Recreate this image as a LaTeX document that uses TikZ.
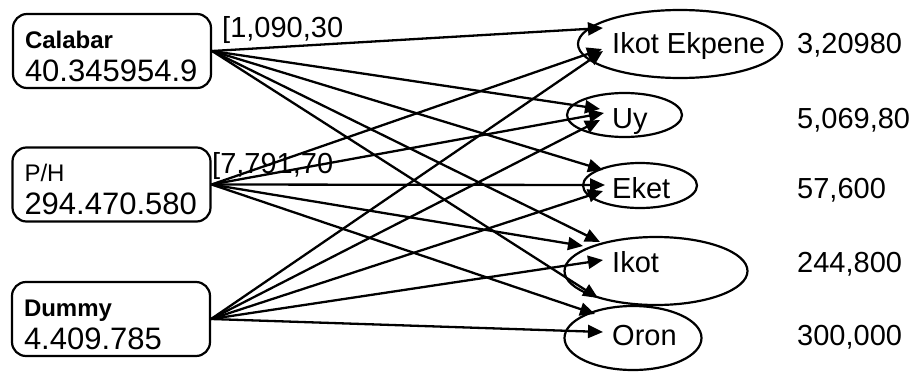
\documentclass[tikz,border=0pt]{standalone}
\usepackage{fontspec}
\setmainfont{Liberation Sans}
\usetikzlibrary{calc,shapes.geometric,arrows.meta}

\begin{document}
\begin{tikzpicture}[x=1pt,y=-1pt,
    srcbox/.style={rectangle,rounded corners=14pt,draw,line width=2.2pt,align=left,text width=174pt,
        inner xsep=12pt,inner ysep=0pt,text height=34pt,text depth=40pt,font=\fontsize{31}{33}\selectfont},
    dest/.style={draw,ellipse,line width=2.2pt,inner sep=0pt},
    lab/.style={anchor=base west,inner sep=0pt,font=\fontsize{29}{33}\selectfont},
    arr/.style={line width=2.3pt,-{Triangle[length=15pt,width=13pt]}}]
    \useasboundingbox (0,0) rectangle (918,372);  % 画布大小

    \node[srcbox] (cal) at (112,51) {{\fontsize{24}{33}\selectfont\bfseries Calabar}\\40.345954.9}; % 起点A
    \node[srcbox] (ph) at (111.5,184.5) {{\fontsize{24}{33}\selectfont P/H}\\294.470.580}; % 起点B
    \node[srcbox] (dum) at (111,319) {{\fontsize{24}{33}\selectfont\bfseries Dummy}\\4.409.785}; % 起点C

    \node (ellIkotE) at (680,44) [dest,minimum width=204pt,minimum height=68pt] {}; % 终点椭圆
    \node (ellUy) at (624.5,115) [dest,minimum width=115pt,minimum height=44pt] {};
    \node (ellEket) at (640,185.5) [dest,minimum width=114pt,minimum height=45pt] {};
    \node (ellIkot) at (656,271) [dest,minimum width=183pt,minimum height=68pt] {};
    \node (ellOron) at (633,338) [dest,minimum width=137pt,minimum height=64pt] {};

    \node (ikotE) at (612,53) [lab] {Ikot Ekpene}; % 终点名称
    \node (uy) at (612,128) [lab] {Uy};
    \node (eket) at (612,198) [lab] {Eket};
    \node (ikot) at (612,272) [lab] {Ikot};
    \node (oron) at (612,345) [lab] {Oron};

    \node (vIkotE) at (797,53) [lab] {3,20980}; % 需求量
    \node (vUy) at (797,128) [lab] {5,069,80};
    \node (vEket) at (797,198) [lab] {57,600};
    \node (vIkot) at (797,272) [lab] {244,800};
    \node (vOron) at (797,345) [lab] {300,000};

    \node (cCal) at (222,37) [lab] {[1,090,30}; % 标注费用
    \node (cPh) at (212,173) [lab] {[7,791,70};

    \draw[arr] (cal.east) -- ([xshift=-9pt,yshift=25pt]ikotE.base west); % Calabar 出发
    \draw[arr] (cal.east) -- ([xshift=-12pt,yshift=19pt]uy.base west);
    \draw[arr] (cal.east) -- ([xshift=-9pt,yshift=28pt]eket.base west);
    \draw[arr] (cal.east) -- ([xshift=-12pt,yshift=30pt]ikot.base west);
    \draw[arr] (cal.east) -- ([xshift=-14pt,yshift=47pt]oron.base west);

    \draw[arr] (ph.east) -- ([xshift=-10pt,yshift=4pt]ikotE.base west); % P/H 出发
    \draw[arr] (ph.east) -- ([xshift=-8pt,yshift=15pt]uy.base west);
    \draw[arr] (ph.east) -- ([xshift=-7pt,yshift=13pt]eket.base west);
    \draw[arr] (ph.east) -- ([xshift=-29pt,yshift=26pt]ikot.base west);
    \draw[arr] (ph.east) -- ([xshift=-17pt,yshift=31pt]oron.base west);

    \draw[arr] (dum.east) -- ([xshift=-9pt,yshift=2pt]ikotE.base west); % Dummy 出发
    \draw[arr] (dum.east) -- ([xshift=-12pt,yshift=8pt]uy.base west);
    \draw[arr] (dum.east) -- ([xshift=-9pt,yshift=7pt]eket.base west);
    \draw[arr] (dum.east) -- ([xshift=-9pt,yshift=12pt]ikot.base west);
    \draw[arr] (dum.east) -- ([xshift=-9pt,yshift=13pt]oron.base west);
\end{tikzpicture}
\end{document}
